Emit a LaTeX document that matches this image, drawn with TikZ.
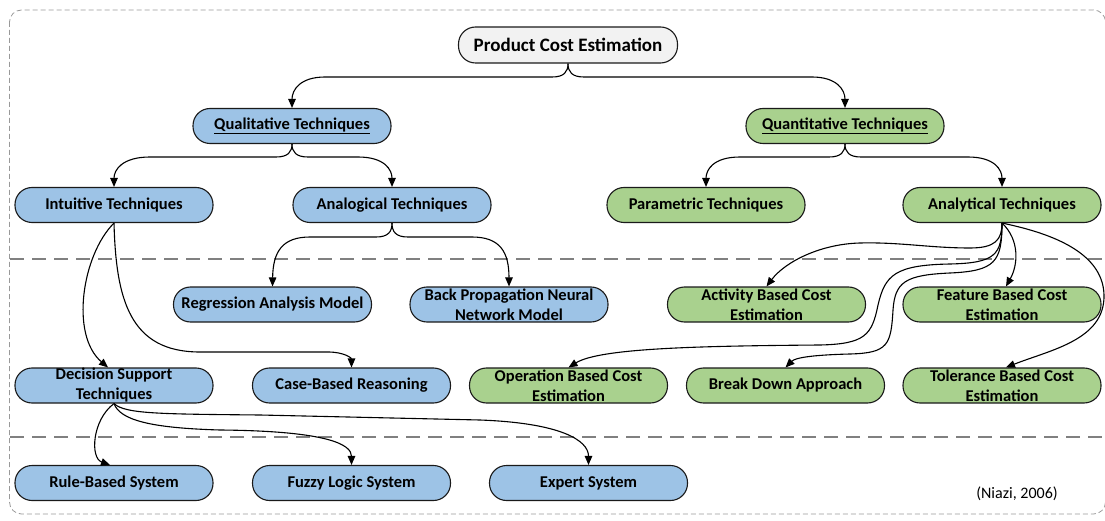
\documentclass[tikz,border=0pt]{standalone}
\usepackage{fontspec}
\setmainfont{Carlito}
\usetikzlibrary{arrows.meta,calc}
\definecolor{bluef}{HTML}{9DC3E6}
\definecolor{greenf}{HTML}{A9D18E}
\definecolor{greyf}{HTML}{F2F2F2}
\definecolor{bordc}{HTML}{1A1A1A}
\definecolor{sepc}{HTML}{808080}
\definecolor{framec}{HTML}{999999}
\begin{document}
\begin{tikzpicture}[x=1pt,y=-1pt,
 box/.style={draw=bordc,line width=1.1pt,rounded corners=17pt,minimum width=198pt,minimum height=35pt,inner sep=0pt,align=center,font=\fontsize{16.5}{20}\selectfont\bfseries},
 bluebox/.style={box,fill=bluef},
 greenbox/.style={box,fill=greenf},
 titlebox/.style={box,fill=greyf,minimum width=219pt,minimum height=36pt,font=\fontsize{19}{22}\selectfont\bfseries},
 conn/.style={draw=black,line width=1.1pt,-{Triangle[length=9pt,width=7.5pt]}},
 sepline/.style={draw=sepc,line width=2pt,dash pattern=on 14pt off 8pt},
 framebox/.style={draw=framec,line width=0.8pt,dash pattern=on 5pt off 3pt,rounded corners=12pt}]
\useasboundingbox (0,0) rectangle (1105,521);
\draw[framebox] (9.5,10) rectangle (1105.5,514);
\draw[sepline] (10,259) -- (1105,259);
\draw[sepline] (10,437) -- (1105,437);

% nodes
\node[titlebox] (pce) at (568,45) {Product Cost Estimation};
\node[bluebox] (qual) at (292,126) {\underline{Qualitative Techniques}};
\node[greenbox] (quant) at (845,126) {\underline{Quantitative Techniques}};
\node[bluebox] (intu) at (114,205) {Intuitive Techniques};
\node[bluebox] (analog) at (392,205) {Analogical Techniques};
\node[greenbox] (param) at (706,205) {Parametric Techniques};
\node[greenbox] (analyt) at (1002,205) {Analytical Techniques};
\node[bluebox] (regr) at (272.5,304.5) {Regression Analysis Model};
\node[bluebox] (bp) at (509,304.5) {Back Propagation Neural\\Network Model};
\node[greenbox] (act) at (766.5,304.5) {Activity Based Cost\\Estimation};
\node[greenbox] (feat) at (1002,304.5) {Feature Based Cost\\Estimation};
\node[bluebox] (dec) at (114,385.5) {Decision Support\\Techniques};
\node[bluebox] (cbr) at (351.5,385.5) {Case-Based Reasoning};
\node[greenbox] (op) at (568.5,385.5) {Operation Based Cost\\Estimation};
\node[greenbox] (bd) at (785.5,385.5) {Break Down Approach};
\node[greenbox] (tol) at (1002,385.5) {Tolerance Based Cost\\Estimation};
\node[bluebox] (rule) at (114,483) {Rule-Based System};
\node[bluebox] (fuzzy) at (351.5,483) {Fuzzy Logic System};
\node[bluebox] (expert) at (588.5,483) {Expert System};
\node[font=\fontsize{16}{19}\selectfont] (cite) at (1017,494) {(Niazi, 2006)};

% top level
\draw[conn] (pce.south) .. controls (568,72) and (564,77) .. (552,77) -- (325,77) .. controls (300,77) and (292,90) .. (qual.north);
\draw[conn] (pce.south) .. controls (568,72) and (572,77) .. (584,77) -- (812,77) .. controls (837,77) and (845,90) .. (quant.north);
% qualitative
\draw[conn] (qual.south) .. controls (292,152) and (288,157) .. (276,157) -- (150,157) .. controls (122,157) and (114,170) .. (intu.north);
\draw[conn] (qual.south) .. controls (292,152) and (296,157) .. (308,157) -- (358,157) .. controls (385,157) and (392,170) .. (analog.north);
% quantitative
\draw[conn] (quant.south) .. controls (845,152) and (841,157) .. (829,157) -- (740,157) .. controls (713,157) and (706,170) .. (param.north);
\draw[conn] (quant.south) .. controls (845,152) and (849,157) .. (861,157) -- (968,157) .. controls (995,157) and (1002,170) .. (analyt.north);
% analogical
\draw[conn] (analog.south) .. controls (392,232) and (388,237) .. (376,237) -- (310,237) .. controls (282,237) and (273,252) .. (regr.north);
\draw[conn] (analog.south) .. controls (392,232) and (396,237) .. (408,237) -- (472,237) .. controls (500,237) and (509,252) .. (bp.north);
% intuitive
\draw[conn] (intu.south) .. controls (82,255) and (70,335) .. ($(dec.north)+(-6,0)$);
\draw[conn] (intu.south) .. controls (116,300) and (130,352) .. (200,352) -- (328,352) .. controls (344,352) and (351.5,358) .. (cbr.north);
% decision support
\draw[conn] (dec.south) .. controls (92,420) and (90,458) .. ($(rule.north)+(-4,0)$);
\draw[conn] (dec.south) .. controls (120,420) and (150,428) .. (220,430) .. controls (330,431) and (351.5,445) .. (fuzzy.north);
\draw[conn] (dec.south) .. controls (125,414) and (160,414) .. (260,415) -- (480,420) .. controls (560,423) and (588.5,440) .. (expert.north);
% analytical
\draw[conn] (analyt.south) .. controls (1002,240) and (995,248) .. (970,248) .. controls (930,248) and (900,242) .. (860,243) .. controls (820,244) and (785,262) .. (act.north);
\draw[conn] (analyt.south) .. controls (1020,240) and (1018,265) .. ($(feat.north)+(4,0)$);
\draw[conn] (analyt.south) .. controls (1002,255) and (995,263) .. (950,264) .. controls (895,265) and (885,275) .. (878,305) .. controls (872,335) and (865,344) .. (820,345) .. controls (700,346) and (600,348) .. (op.north);
\draw[conn] (analyt.south) .. controls (1002,262) and (995,271) .. (950,273) .. controls (905,275) and (895,282) .. (893,310) .. controls (891,345) and (888,353) .. (850,354) .. controls (810,355) and (795,358) .. (bd.north);
\draw[conn] (analyt.south) .. controls (1045,232) and (1103,250) .. (1104,295) .. controls (1105,340) and (1050,350) .. ($(tol.north)+(4,0)$);
\end{tikzpicture}
\end{document}
